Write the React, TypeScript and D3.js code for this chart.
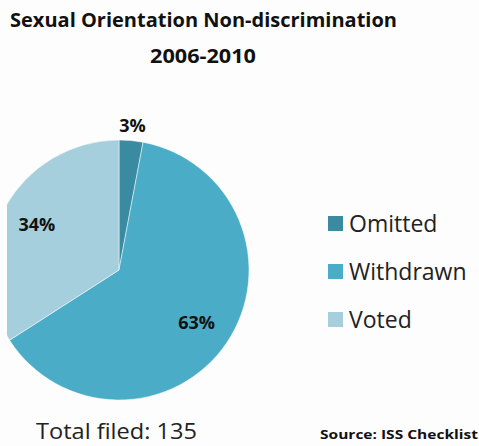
import { useEffect, useRef } from 'react'
import * as d3 from 'd3'

const categories = ['Omitted', 'Withdrawn', 'Voted']
const counts = [4, 85, 46]
const colors = ['#3a8ba1', '#4aacc6', '#a6cfdd']
const pctLabels = ['3%', '63%', '34%']

const width = 479
const height = 446

export default function App() {
  const svgRef = useRef<SVGSVGElement>(null)

  useEffect(() => {
    if (!svgRef.current) return
    const svg = d3.select(svgRef.current)
    svg.selectAll('*').remove()

    svg.append('rect').attr('width', width).attr('height', height).attr('fill', '#fdfdfd')

    // Title
    svg.append('text')
      .attr('x', 10).attr('y', 27)
      .attr('font-family', 'Open Sans, sans-serif')
      .attr('font-weight', 'bold')
      .attr('font-size', 19)
      .attr('textLength', 387)
      .attr('lengthAdjust', 'spacingAndGlyphs')
      .attr('fill', '#111')
      .text('Sexual Orientation Non-discrimination')

    svg.append('text')
      .attr('x', 203).attr('y', 63)
      .attr('text-anchor', 'middle')
      .attr('font-family', 'Open Sans, sans-serif')
      .attr('font-weight', 'bold')
      .attr('font-size', 19)
      .attr('textLength', 106)
      .attr('lengthAdjust', 'spacingAndGlyphs')
      .attr('fill', '#111')
      .text('2006-2010')

    // Pie, cropped on the left like the original
    const cx = 119, cy = 270, r = 130
    svg.append('defs').append('clipPath').attr('id', 'pie-clip')
      .append('rect').attr('x', 7).attr('y', 0).attr('width', width).attr('height', height)

    const pie = d3.pie<number>().sort(null).value(d => d)
    const arcs = pie(counts)
    const arc = d3.arc<d3.PieArcDatum<number>>().innerRadius(0).outerRadius(r)

    svg.append('g').attr('clip-path', 'url(#pie-clip)')
      .append('g').attr('transform', `translate(${cx},${cy})`)
      .selectAll('path')
      .data(arcs)
      .join('path')
      .attr('d', arc)
      .attr('fill', (_, i) => colors[i])
      .attr('stroke', '#ffffff')
      .attr('stroke-width', 0.5)

    // Percentage labels (drawn after the slices)
    const g = svg.append('g')
      .attr('transform', `translate(${cx},${cy})`)
    const outer = d3.arc<d3.PieArcDatum<number>>().innerRadius(r + 15).outerRadius(r + 15)
    const inner = d3.arc<d3.PieArcDatum<number>>().innerRadius(r * 0.72).outerRadius(r * 0.72)
    g.selectAll('text.pct')
      .data(arcs)
      .join('text')
      .attr('class', 'pct')
      .attr('transform', (d, i) => {
        const [x, y] = (i === 0 ? outer : inner).centroid(d)
        return `translate(${x},${y})`
      })
      .attr('text-anchor', 'middle')
      .attr('dy', '0.35em')
      .attr('font-family', 'Open Sans, sans-serif')
      .attr('font-weight', 'bold')
      .attr('font-size', 18)
      .attr('fill', '#111')
      .text((_, i) => pctLabels[i])

    // Legend
    const legend = svg.append('g').attr('transform', 'translate(328,216)')
    const rows = legend.selectAll('g')
      .data(categories)
      .join('g')
      .attr('transform', (_, i) => `translate(0,${i * 48})`)
    rows.append('rect')
      .attr('width', 15).attr('height', 15)
      .attr('fill', (_, i) => colors[i])
    rows.append('text')
      .attr('x', 21).attr('y', 16)
      .attr('font-family', 'Open Sans, sans-serif')
      .attr('font-size', 23)
      .attr('fill', '#222')
      .text(d => d)

    // Footer
    svg.append('text')
      .attr('x', 36).attr('y', 439)
      .attr('font-family', 'Open Sans, sans-serif')
      .attr('font-size', 22)
      .attr('textLength', 161)
      .attr('lengthAdjust', 'spacingAndGlyphs')
      .attr('fill', '#222')
      .text('Total filed: 135')

    svg.append('text')
      .attr('x', 320).attr('y', 439)
      .attr('font-family', 'Open Sans, sans-serif')
      .attr('font-weight', 'bold')
      .attr('font-size', 13)
      .attr('textLength', 158)
      .attr('lengthAdjust', 'spacingAndGlyphs')
      .attr('fill', '#111')
      .text('Source: ISS Checklist')
  }, [])

  return (
    <svg
      ref={svgRef}
      width={width}
      height={height}
      style={{ position: 'absolute', left: 0, top: 0, display: 'block' }}
    />
  )
}
